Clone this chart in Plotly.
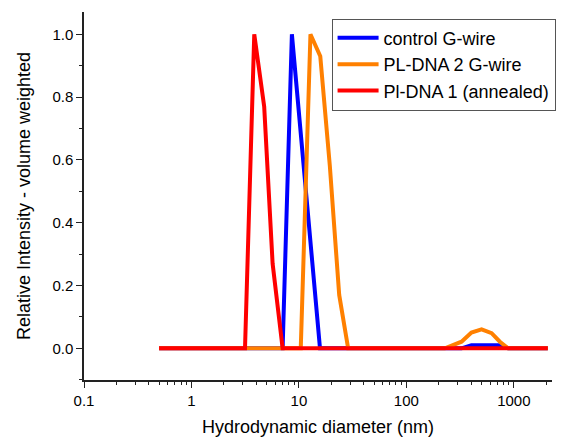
import plotly.graph_objects as go

# Hydrodynamic diameter (nm) and relative intensity (volume weighted)
control_x = [0.5, 7.05, 8.6, 10.5, 12.8, 15.7, 326, 403, 501, 621, 741, 885, 2070]
control_y = [0, 0, 1.0, 0.67, 0.34, 0, 0, 0.01, 0.01, 0.01, 0.01, 0, 0]

pl2_x = [0.5, 10.4, 12.8, 15.8, 19.4, 23.7, 28.7, 228, 326, 403, 501, 621, 741, 885, 2070]
pl2_y = [0, 0, 1.0, 0.93, 0.58, 0.17, 0, 0, 0.021, 0.05, 0.06, 0.048, 0.021, 0, 0]

pl1_x = [0.5, 3.15, 3.84, 4.75, 5.69, 7.05, 2070]
pl1_y = [0, 0, 1.0, 0.77, 0.27, 0, 0]

names = ["control G-wire", "PL-DNA 2 G-wire", "Pl-DNA 1 (annealed)"]
colors = ["#0000FF", "#FF8000", "#FF0000"]

x_ticks = [0.1, 1, 10, 100, 1000]
x_ticktext = ["0.1", "1", "10", "100", "1000"]
x_minor = [k * 10.0 ** e for e in range(-1, 4) for k in range(2, 10) if k * 10.0 ** e <= 2200]

FONT = "Liberation Sans"

fig = go.Figure()
for xs, ys, n, c in zip([control_x, pl2_x, pl1_x], [control_y, pl2_y, pl1_y], names, colors):
    fig.add_trace(go.Scatter(x=xs, y=ys, mode="lines", name=n,
                             line=dict(color=c, width=4)))

fig.update_layout(
    width=564, height=437,
    margin=dict(l=84, r=12, t=12, b=57, autoexpand=False),
    paper_bgcolor="white", plot_bgcolor="white",
    font=dict(family=FONT, color="black", size=15),
    showlegend=True,
    legend=dict(x=0.529, y=0.982, xanchor="left", yanchor="top",
                bgcolor="white", bordercolor="#555555", borderwidth=1,
                itemwidth=41,
                font=dict(size=18, family=FONT), tracegroupgap=0),
)
fig.update_xaxes(
    type="log", range=[-1, 3.355], automargin=False,
    tickvals=x_ticks, ticktext=x_ticktext,
    ticks="outside", ticklen=6, tickwidth=1.3, tickcolor="#222",
    showline=True, linecolor="#222", linewidth=1.5,
    showgrid=False, zeroline=False,
    tickfont=dict(size=15),
    minor=dict(tickvals=x_minor, ticks="outside", ticklen=3, tickcolor="#222", showgrid=False),
    title=dict(text="Hydrodynamic diameter (nm)", font=dict(size=18), standoff=20),
)
fig.update_yaxes(
    range=[-0.101, 1.071], automargin=False,
    tickvals=[0, 0.2, 0.4, 0.6, 0.8, 1.0],
    ticktext=["0.0", "0.2", "0.4", "0.6", "0.8", "1.0"],
    ticks="outside", ticklen=6, tickwidth=1.3, tickcolor="#222",
    showline=True, linecolor="#222", linewidth=1.5,
    showgrid=False, zeroline=False,
    tickfont=dict(size=15),
    minor=dict(dtick=0.1, ticks="outside", ticklen=3, tickcolor="#222", showgrid=False),
    title=dict(text="Relative Intensity - volume weighted", font=dict(size=18), standoff=17),
)

fig.write_html("out.html")
